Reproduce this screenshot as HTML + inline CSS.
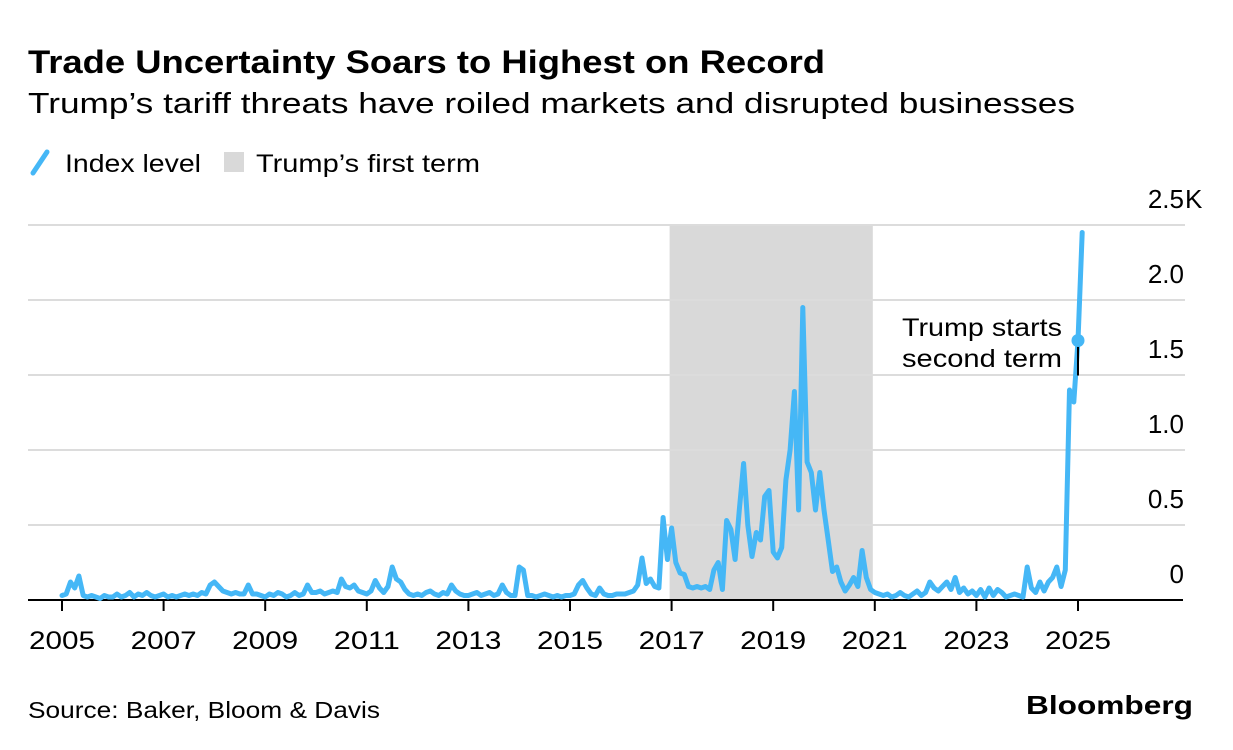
<!DOCTYPE html>
<html><head><meta charset="utf-8">
<style>
body{margin:0;background:#fff;}
svg{display:block;font-family:"Liberation Sans",sans-serif;}
</style></head>
<body>
<svg id="chart" width="1233" height="750" viewBox="0 0 1233 750">
<text x="28" y="73" font-size="32" font-weight="bold" fill="#000" textLength="797" lengthAdjust="spacingAndGlyphs">Trade Uncertainty Soars to Highest on Record</text>
<text x="28" y="113" font-size="29" fill="#000" textLength="1047" lengthAdjust="spacingAndGlyphs">Trump’s tariff threats have roiled markets and disrupted businesses</text>
<g>
<line x1="33" y1="173" x2="47" y2="152" stroke="#45b7f6" stroke-width="5" stroke-linecap="round"/>
<text x="65" y="172" font-size="25" textLength="136" lengthAdjust="spacingAndGlyphs">Index level</text>
<rect x="224" y="152" width="20" height="20" fill="#d9d9d9"/>
<text x="256" y="172" font-size="25" textLength="224" lengthAdjust="spacingAndGlyphs">Trump’s first term</text>
</g>
<g id="plot"></g>
<text x="28" y="718" font-size="23" textLength="352" lengthAdjust="spacingAndGlyphs">Source: Baker, Bloom &amp; Davis</text>
<text x="1026" y="714" font-size="26" font-weight="bold" textLength="167" lengthAdjust="spacingAndGlyphs">Bloomberg</text>
</svg>
<script>
const startYear = 2005;
const yTicks = [0, 0.5, 1.0, 1.5, 2.0, 2.5];
const yTickLabels = ["0", "0.5", "1.0", "1.5", "2.0", "2.5"];
const xTickYears = [2005, 2007, 2009, 2011, 2013, 2015, 2017, 2019, 2021, 2023, 2025];
const termStart = 2017, termEnd = 2021;
// monthly index level in thousands, Jan 2005 onwards
const v2005 = [.03,.04,.12,.08,.16,.03,.02,.03,.02,.01,.03,.02];
const v2006 = [.02,.04,.02,.03,.05,.02,.04,.03,.05,.03,.02,.03];
const v2007 = [.04,.02,.03,.02,.03,.04,.03,.04,.03,.05,.04,.1];
const v2008 = [.12,.09,.06,.05,.04,.05,.04,.04,.1,.04,.04,.03];
const v2009 = [.02,.04,.03,.05,.04,.02,.03,.05,.03,.04,.1,.05];
const v2010 = [.05,.06,.04,.05,.06,.05,.14,.09,.08,.1,.06,.05];
const v2011 = [.04,.06,.13,.08,.05,.09,.22,.14,.12,.07,.04,.03];
const v2012 = [.04,.03,.05,.06,.04,.03,.05,.04,.1,.06,.04,.03];
const v2013 = [.03,.04,.05,.03,.04,.05,.03,.04,.1,.05,.03,.03];
const v2014 = [.22,.2,.03,.03,.02,.03,.04,.03,.02,.03,.02,.03];
const v2015 = [.03,.04,.1,.13,.08,.04,.03,.08,.04,.03,.03,.04];
const v2016 = [.04,.04,.05,.06,.1,.28,.11,.14,.09,.08,.55,.27];
const v2017 = [.48,.25,.18,.17,.09,.08,.09,.08,.09,.07,.2,.25];
const v2018 = [.07,.53,.47,.27,.6,.91,.5,.29,.45,.4,.69,.73];
const v2019 = [.32,.28,.35,.8,1.0,1.39,.6,1.95,.92,.85,.6,.85];
const v2020 = [.6,.4,.19,.22,.12,.06,.1,.15,.09,.33,.15,.07];
const v2021 = [.05,.04,.03,.04,.02,.03,.05,.03,.02,.04,.06,.03];
const v2022 = [.05,.12,.08,.06,.09,.12,.07,.15,.05,.08,.04,.06];
const v2023 = [.03,.07,.02,.08,.03,.07,.05,.02,.03,.04,.03,.02];
const v2024 = [.22,.08,.05,.12,.06,.12,.15,.22,.09,.2,1.4,1.32];
const v2025 = [1.73,2.45];
const values = [].concat(v2005,v2006,v2007,v2008,v2009,v2010,v2011,v2012,v2013,v2014,v2015,v2016,v2017,v2018,v2019,v2020,v2021,v2022,v2023,v2024,v2025);
const annotIndex = 240; // Jan 2025

const NS = "http://www.w3.org/2000/svg";
const plot = document.getElementById('plot');
const X0 = 62, PXY = 50.8, Y0 = 600, PXV = 150;
const xScale = t => X0 + (t - startYear) * PXY;
const yScale = v => Y0 - v * PXV;
function mk(tag, attrs){const e=document.createElementNS(NS,tag);for(const k in attrs)e.setAttribute(k,attrs[k]);plot.appendChild(e);return e;}

const band = mk('rect',{x:xScale(termStart)-2,y:yScale(2.5),width:xScale(termEnd)-xScale(termStart),height:yScale(0)-yScale(2.5),fill:'#d9d9d9'});



yTicks.forEach((t,i)=>{
  if(t>0){
    const g = mk('line',{x1:28,x2:1185,y1:yScale(t),y2:yScale(t),stroke:'#dcdcdc','stroke-width':2});
    
    
  }
  const lb = mk('text',{x:1184,y:yScale(t)-17,'font-size':26,'text-anchor':'end'});
  lb.textContent = yTickLabels[i];
  
  
  if(i===yTicks.length-1){
    const k = mk('text',{x:1185,y:yScale(t)-17,'font-size':26});
    k.textContent='K';
    
    
  }
});

const axis = mk('line',{x1:28,x2:1183,y1:Y0,y2:Y0,stroke:'#000','stroke-width':2});


xTickYears.forEach(yr=>{
  const x = xScale(yr);
  const tk = mk('line',{x1:x,x2:x,y1:Y0,y2:Y0+11,stroke:'#000','stroke-width':2});
  
  
  const lb = mk('text',{x:x-33,y:649,'font-size':25,textLength:66,lengthAdjust:'spacingAndGlyphs'});
  lb.textContent = yr;
  
  
});

const pts = values.map((v,i)=>xScale(startYear+i/12).toFixed(1)+','+yScale(v).toFixed(1)).join(' ');
const line = mk('polyline',{points:pts,fill:'none',stroke:'#45b7f6','stroke-width':5,'stroke-linejoin':'round','stroke-linecap':'round'});



const ax = xScale(startYear+annotIndex/12), ay = yScale(values[annotIndex]);
const lead = mk('line',{x1:ax,x2:ax,y1:ay,y2:ay+35,stroke:'#000','stroke-width':2});


const dot = mk('circle',{cx:ax,cy:ay,r:6.5,fill:'#45b7f6'});


const a1 = mk('text',{x:902,y:336,'font-size':25,textLength:160,lengthAdjust:'spacingAndGlyphs'});
a1.textContent='Trump starts';


const a2 = mk('text',{x:902,y:367,'font-size':25,textLength:160,lengthAdjust:'spacingAndGlyphs'});
a2.textContent='second term';


</script>
</body></html>
